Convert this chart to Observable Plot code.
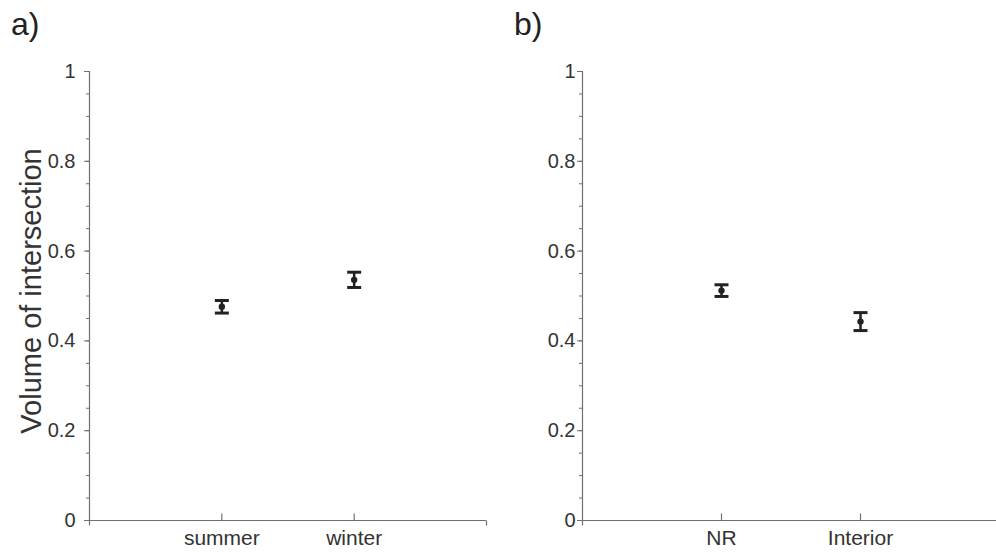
<!DOCTYPE html>
<html><head><meta charset="utf-8">
<script src="https://cdn.jsdelivr.net/npm/d3@7"></script>
<script src="https://cdn.jsdelivr.net/npm/@observablehq/plot@0.6"></script>
<style>
html,body{margin:0;padding:0;background:#fff;}
#wrap{position:relative;width:996px;height:552px;overflow:hidden;font-family:"Liberation Sans",Arial,sans-serif;}
.panel{position:absolute;top:0;}
.tag{position:absolute;top:8px;font-size:32px;line-height:1;color:#222;}
</style></head><body>
<div id="wrap"></div>
<script>
const seasonCats = ["summer", "winter"];
const seasonMean = [0.476, 0.536];
const seasonErr = [0.014, 0.017];
const regionCats = ["NR", "Interior"];
const regionMean = [0.512, 0.443];
const regionErr = [0.013, 0.020];
const majorTicks = [0, 0.2, 0.4, 0.6, 0.8, 1];
const minorTicks = [0, 0.05, 0.1, 0.15, 0.2, 0.25, 0.3, 0.35, 0.4, 0.45, 0.5, 0.55, 0.6, 0.65, 0.7, 0.75, 0.8, 0.85, 0.9, 0.95, 1];
const yLabel = "Volume of intersection";
const panelTags = ["a)", "b)"];

const capSym = {draw(ctx){ ctx.moveTo(-7, 0); ctx.lineTo(7, 0); }};
const tickUpSym = {draw(ctx){ ctx.moveTo(0, 0); ctx.lineTo(0, -7); }};
const tickDownSym = {draw(ctx){ ctx.moveTo(0, 0); ctx.lineTo(0, 5); }};
const axisColor = "#707070";
const inkColor = "#222";

function panel(cats, means, errs, opts) {
  const data = cats.map((c, i) => ({cat: c, pos: i + 1, mean: means[i], lo: means[i] - errs[i], hi: means[i] + errs[i]}));
  const fmt = d => (d === 0 || d === 1) ? String(d) : d.toFixed(1);
  const marks = [
    Plot.axisY({ticks: minorTicks, tickSize: 3, tickFormat: () => "", label: null, stroke: axisColor}),
    Plot.axisY({ticks: majorTicks, tickSize: 5, tickPadding: opts.tp, tickFormat: fmt, label: null, fontSize: 20, stroke: axisColor, fill: "#333"}),
    Plot.axisX({ticks: [1, 2], tickSize: 0, tickPadding: 10, tickFormat: i => cats[i - 1], label: null, fontSize: 21, fill: "#333"}),
    Plot.ruleX([0], {y1: 0, y2: 1, stroke: axisColor, strokeWidth: 1.2}),
    Plot.ruleY([0], {x1: 0, x2: 3, stroke: axisColor, strokeWidth: 1.2}),
    Plot.dot([0, 3], {x: d => d, y: () => 0, symbol: tickDownSym, stroke: axisColor, strokeWidth: 1.2}),
    Plot.dot(data, {x: "pos", y: () => 0, symbol: tickUpSym, stroke: axisColor, strokeWidth: 1.2}),
    Plot.ruleX(data, {x: "pos", y1: "lo", y2: "hi", stroke: inkColor, strokeWidth: 2.5}),
    Plot.dot(data, {x: "pos", y: "lo", symbol: capSym, stroke: inkColor, strokeWidth: 3}),
    Plot.dot(data, {x: "pos", y: "hi", symbol: capSym, stroke: inkColor, strokeWidth: 3}),
    Plot.dot(data, {x: "pos", y: "mean", r: 3.2, fill: inkColor, stroke: "none"})
  ];
  if (opts.ylabel) {
    marks.push(Plot.text([opts.ylabel], {frameAnchor: "left", textAnchor: "middle", rotate: -90, dx: -58, dy: -5, fontSize: 29, fill: "#333"}));
  }
  return Plot.plot({
    width: opts.width, height: 552,
    marginTop: 71, marginBottom: 32, marginLeft: opts.ml, marginRight: opts.mr,
    style: {fontFamily: "Liberation Sans, Arial, sans-serif", color: "#333", background: "#fff", overflow: "visible"},
    x: {domain: [0, 3]},
    y: {domain: [0, 1]},
    marks
  });
}

const wrap = document.getElementById("wrap");
const a = panel(seasonCats, seasonMean, seasonErr, {width: 498, ml: 89, mr: 12, tp: 9, ylabel: yLabel});
a.classList.add("panel"); a.style.left = "0px";
const b = panel(regionCats, regionMean, regionErr, {width: 501, ml: 84, mr: 0, tp: 2});
b.classList.add("panel"); b.style.left = "498px";
wrap.appendChild(a); wrap.appendChild(b);
[[panelTags[0], 11], [panelTags[1], 514]].forEach(([t, x]) => {
  const d = document.createElement("div");
  d.className = "tag"; d.textContent = t; d.style.left = x + "px";
  wrap.appendChild(d);
});
</script>
</body></html>
